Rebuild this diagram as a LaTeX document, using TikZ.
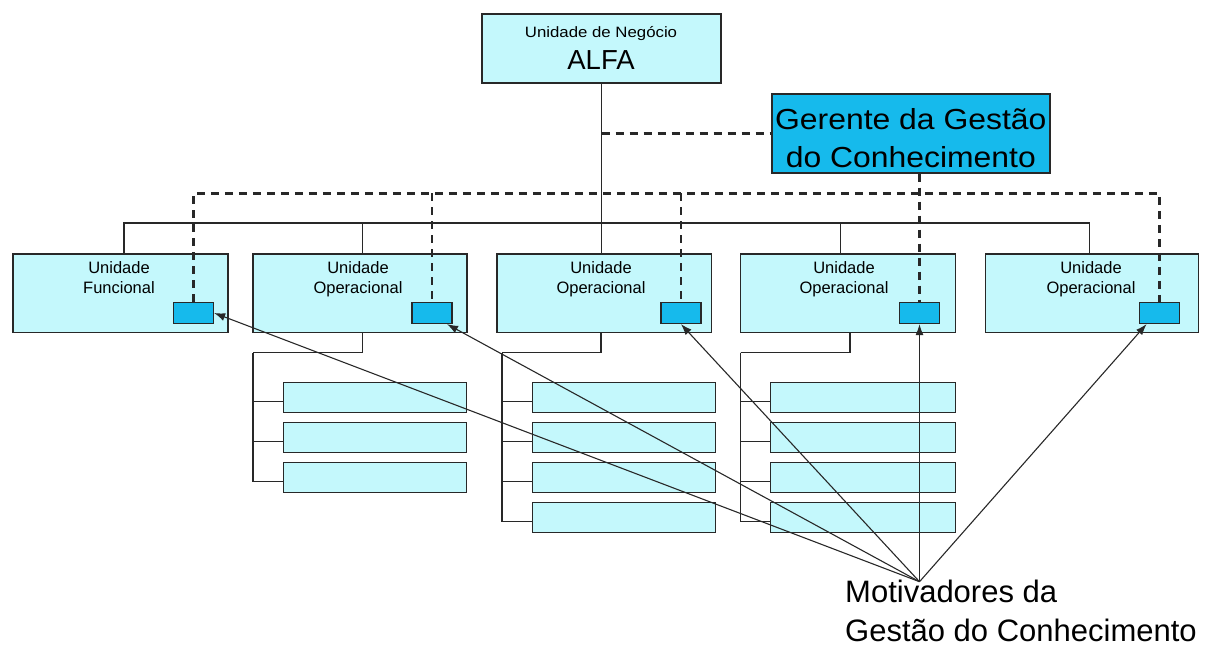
\documentclass[tikz,border=0pt]{standalone}
\usepackage{fontspec}
\setmainfont{Liberation Sans}
\newfontfamily\smallwide[FakeStretch=1.12]{Liberation Sans}
\newfontfamily\managerfont[FakeStretch=1.1]{Liberation Sans}
\usetikzlibrary{arrows.meta}
\definecolor{paleaqua}{RGB}{196,248,252}
\definecolor{tagblue}{RGB}{22,186,236}
\definecolor{ink}{RGB}{40,40,40}

\begin{document}
\begin{tikzpicture}[x=1pt,y=-1pt,
  orgbox/.style={draw=ink,line width=1.4pt,fill=paleaqua,inner sep=0pt,
                 minimum width=214.5pt,minimum height=78.7pt},
  subbox/.style={draw=ink,line width=1.4pt,fill=paleaqua,inner sep=0pt,
                 minimum height=30pt},
  tagbox/.style={draw=ink,line width=1.3pt,fill=tagblue,inner sep=0pt,
                 minimum width=40pt,minimum height=21pt},
  solidlink/.style={draw=ink,line width=1.2pt},
  dashlink/.style={draw=ink,line width=2.4pt,dash pattern=on 8pt off 6pt},
  motlink/.style={draw=ink,line width=1.1pt,-{Latex[length=11pt,width=8pt]}},
  unitlabel/.style={inner sep=0pt,anchor=base,font=\fontsize{16.5}{20.5}\selectfont},
]
\useasboundingbox (0,0) rectangle (1207,648);

% business unit at the top
\node[orgbox,minimum width=239pt,minimum height=69pt] (alfa) at (601.5,48.6) {};
\node[inner sep=0pt,anchor=base,font=\smallwide\fontsize{15}{18}\selectfont]
  (alfaTop) at (601,37.3) {Unidade de Negócio};
\node[inner sep=0pt,anchor=base,font=\fontsize{27.5}{33}\selectfont]
  (alfaName) at (601,69.3) {ALFA};

% knowledge management manager
\node[draw=ink,line width=1.4pt,fill=tagblue,inner sep=0pt,
      minimum width=278pt,minimum height=79pt] (g) at (910.8,133.5) {};
\node[inner sep=0pt,anchor=base,font=\managerfont\fontsize{29}{38}\selectfont]
  (gText) at (910.8,129.3)
  {\parbox[t]{300pt}{\centering Gerente da Gestão\\do Conhecimento}};

% second level units
\node[orgbox,minimum width=215pt] (u1) at (120.5,293.3) {};
\node[orgbox,minimum width=214pt] (u2) at (360,293.3) {};
\node[orgbox,minimum width=214.7pt] (u3) at (604.3,293.3) {};
\node[orgbox,minimum width=214.6pt] (u4) at (848,293.3) {};
\node[orgbox,minimum width=213pt] (u5) at (1092.2,293.3) {};

\node[unitlabel] (l1) at (119,273.3) {\parbox[t]{200pt}{\centering Unidade\\Funcional}};
\node[unitlabel] (l2) at (358,273.3) {\parbox[t]{200pt}{\centering Unidade\\Operacional}};
\node[unitlabel] (l3) at (601,273.3) {\parbox[t]{200pt}{\centering Unidade\\Operacional}};
\node[unitlabel] (l4) at (844,273.3) {\parbox[t]{200pt}{\centering Unidade\\Operacional}};
\node[unitlabel] (l5) at (1091,273.3) {\parbox[t]{200pt}{\centering Unidade\\Operacional}};

% knowledge management contact points inside each unit
\node[tagbox] (t1) at (193.5,313) {};
\node[tagbox] (t2) at (432,313) {};
\node[tagbox] (t3) at (681,313) {};
\node[tagbox] (t4) at (919.5,313) {};
\node[tagbox] (t5) at (1159.5,313) {};

% third level boxes
\node[subbox,minimum width=183.4pt] (s2a) at (375,397.7) {};
\node[subbox,minimum width=183.4pt] (s2b) at (375,437.7) {};
\node[subbox,minimum width=183.4pt] (s2c) at (375,477.2) {};

\node[subbox,minimum width=182.6pt] (s3a) at (624,397.7) {};
\node[subbox,minimum width=182.6pt] (s3b) at (624,437.7) {};
\node[subbox,minimum width=182.6pt] (s3c) at (624,477.2) {};
\node[subbox,minimum width=182.6pt] (s3d) at (624,517.3) {};

\node[subbox,minimum width=184.6pt] (s4a) at (863,397.7) {};
\node[subbox,minimum width=184.6pt] (s4b) at (863,437.7) {};
\node[subbox,minimum width=184.6pt] (s4c) at (863,477.2) {};
\node[subbox,minimum width=184.6pt] (s4d) at (863,517.3) {};

% hierarchy lines
\coordinate (dbus) at (0,193.3);
\coordinate (d1) at (124,223);
\coordinate (d2) at (362.7,223);
\coordinate (d4) at (840.7,223);
\coordinate (d5) at (1089.6,223);
\draw[solidlink] (alfa.south) -- (alfa.south |- u3.north);
\draw[solidlink] (d1 |- u1.north) -- (d1) -- (d5) -- (d5 |- u5.north);
\draw[solidlink] (d2) -- (d2 |- u2.north);
\draw[solidlink] (d4) -- (d4 |- u4.north);

\coordinate (q2) at (362.7,352.7);
\coordinate (q3) at (601,352.7);
\coordinate (q4) at (850,352.7);
\coordinate (k2) at (253,352.7);
\coordinate (k3) at (502,352.7);
\coordinate (k4) at (740.7,352.7);
\draw[solidlink] (q2 |- u2.south) -- (q2) -- (k2);
\draw[solidlink] (q3 |- u3.south) -- (q3) -- (k3);
\draw[solidlink] (q4 |- u4.south) -- (q4) -- (k4);
\foreach \b in {s2a,s2b,s2c}
  \draw[solidlink] (k2) |- ([yshift=-4pt]\b.west);
\foreach \b in {s3a,s3b,s3c,s3d}
  \draw[solidlink] (k3) |- ([yshift=-4pt]\b.west);
\foreach \b in {s4a,s4b,s4c,s4d}
  \draw[solidlink] (k4) |- ([yshift=-4pt]\b.west);

% dashed (functional) links of the manager
\draw[dashlink] (alfa.south |- g.west) -- (g.west);
\draw[dashlink] (t1.north) -- (t1.north |- dbus) -- (t5.north |- dbus) -- (t5.north);
\draw[dashlink] (t2.north |- dbus) -- (t2.north);
\draw[dashlink] (t3.north |- dbus) -- (t3.north);
\draw[dashlink] (t4.north |- g.south) -- (t4.north);

% knowledge management drivers
\coordinate (m) at (919.5,581.7);
\node[inner sep=0pt,anchor=base west,font=\fontsize{31}{39}\selectfont]
  (mot) at (845,602)
  {\parbox[t]{400pt}{\raggedright Motivadores da\\Gestão do Conhecimento}};
\draw[motlink] (m) -- (t1.east);
\draw[motlink] (m) -- ([xshift=15pt]t2.south);
\draw[motlink] (m) -- (t3.south);
\draw[motlink] (m) -- (t4.south);
\draw[motlink] (m) -- ([xshift=-13pt]t5.south);
\end{tikzpicture}
\end{document}
